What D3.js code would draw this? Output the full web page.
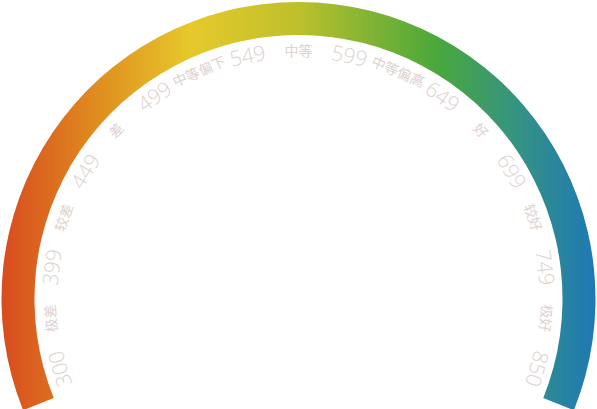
<!DOCTYPE html>
<html>
<head>
<meta charset="utf-8">
<script src="https://cdn.jsdelivr.net/npm/d3@7"></script>
<style>
  html, body { margin: 0; padding: 0; background: #fff; }
  svg { display: block; }
</style>
</head>
<body>
<svg id="chart" width="597" height="409"></svg>
<script>
// ---- data ----
const scoreTicks = [300, 399, 449, 499, 549, 599, 649, 699, 749, 850];
const gradeLabels = ["极差", "较差", "差", "中等偏下", "中等", "中等偏高", "好", "较好", "极好"];
const gradientStops = [
  [0.00, "#d84a1f"],
  [0.17, "#e0901f"],
  [0.32, "#e6c92b"],
  [0.50, "#bdc02c"],
  [0.73, "#4aa83b"],
  [0.87, "#349285"],
  [1.00, "#1e78b6"]
];

// ---- layout ----
const W = 597, H = 409;
const cx = 298.5, cy = 299;
const rOuter = 297, rInner = 264, rLabel = 249;
const arcStart = -112, arcEnd = 112;       // degrees, d3 convention (0 = top, clockwise)
const labelStart = -106.3, labelEnd = 106.3;

const svg = d3.select("#chart");
const defs = svg.append("defs");
const grad = defs.append("linearGradient")
  .attr("id", "g").attr("gradientUnits", "userSpaceOnUse")
  .attr("x1", -cx).attr("y1", 0).attr("x2", W - cx).attr("y2", 0);
grad.selectAll("stop").data(gradientStops).join("stop")
  .attr("offset", d => d[0]).attr("stop-color", d => d[1]);

const rad = Math.PI / 180;
const g = svg.append("g").attr("transform", `translate(${cx},${cy})`);

g.append("path")
  .attr("d", d3.arc()({innerRadius: rInner, outerRadius: rOuter,
                      startAngle: arcStart * rad, endAngle: arcEnd * rad}))
  .attr("fill", "url(#g)");

// interleave score ticks and grade labels
const labels = [];
scoreTicks.forEach((t, i) => {
  labels.push({text: String(t), kind: "num"});
  if (i < gradeLabels.length) labels.push({text: gradeLabels[i], kind: "grade"});
});

const angle = d3.scaleLinear().domain([0, labels.length - 1]).range([labelStart, labelEnd]);

g.selectAll("text.lbl").data(labels).join("text")
  .attr("class", "lbl")
  .attr("transform", (d, i) => {
    const a = angle(i);
    const x = rLabel * Math.sin(a * rad), y = -rLabel * Math.cos(a * rad);
    return `translate(${x},${y}) rotate(${a})`;
  })
  .attr("text-anchor", "middle")
  .attr("dominant-baseline", "central")
  .attr("fill", "#ddd2ce")
  .attr("font-family", d => d.kind === "num" ? "'Open Sans', 'Noto Sans', sans-serif" : "'Noto Sans CJK SC', sans-serif")
  .attr("font-weight", d => d.kind === "num" ? 300 : 400)
  .attr("font-size", d => d.kind === "num" ? 21 : 14)
  .text(d => d.text);
</script>
</body>
</html>
